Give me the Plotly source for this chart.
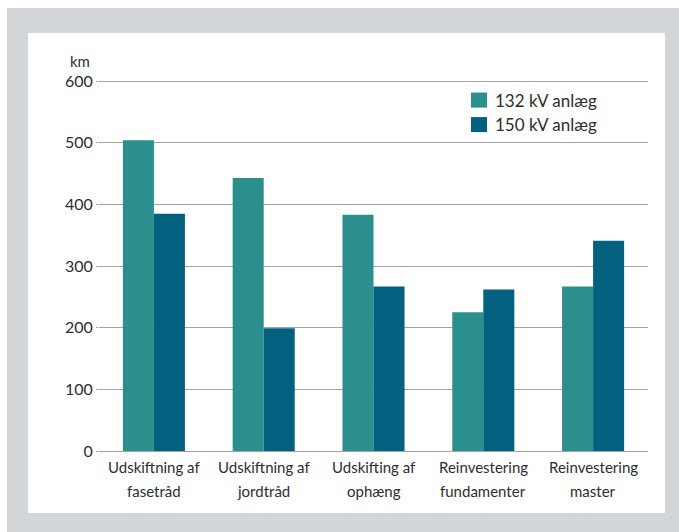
import plotly.graph_objects as go

# Data
category_lines = [
    ("Udskiftning af", "fasetråd"),
    ("Udskiftning af", "jordtråd"),
    ("Udskifting af", "ophæng"),
    ("Reinvestering", "fundamenter"),
    ("Reinvestering", "master"),
]
categories = [" ".join(c) for c in category_lines]
series_names = ["132 kV anlæg", "150 kV anlæg"]
values_132 = [504, 443, 383, 225, 267]
values_150 = [385, 199, 267, 262, 341]
y_ticks = [0, 100, 200, 300, 400, 500, 600]
unit_label = "km"

colors = ["#2a8f8d", "#03607f"]
text_color = "#2e2e2e"
grid_color = "#a3a3a3"
font_family = "Lato, 'Open Sans', sans-serif"

W, H = 679, 532
Y_MAX = 605  # headroom so the 600 gridline is drawn
B = 451      # pixel row of y = 0
PX_PER_UNIT = 370 / 600
L, R = 99, 648
T = B - PX_PER_UNIT * Y_MAX


def px_x(px):
    return (px - L) / (R - L)


def px_y(py):
    return (B - py) / (B - T)


fig = go.Figure()
for name, vals, col in zip(series_names, [values_132, values_150], colors):
    fig.add_trace(go.Bar(x=categories, y=vals, name=name, marker_color=col,
                         marker_line_width=0, showlegend=False))

shapes = [
    # outer grey frame and inner white panel
    dict(type="rect", xref="paper", yref="paper", layer="below",
         x0=px_x(7), x1=px_x(W + 5), y0=px_y(8), y1=px_y(H + 5),
         fillcolor="#d3d6d8", line_width=0),
    dict(type="rect", xref="paper", yref="paper", layer="below",
         x0=px_x(28), x1=px_x(665), y0=px_y(33), y1=px_y(513),
         fillcolor="#ffffff", line_width=0),
]

annotations = []
# legend
for i, (name, col) in enumerate(zip(series_names, colors)):
    cy = 100 + i * 24.5
    shapes.append(dict(type="rect", xref="paper", yref="paper",
                       x0=px_x(471), x1=px_x(487), y0=px_y(cy - 7.5), y1=px_y(cy + 7.5),
                       fillcolor=col, line_width=0))
    annotations.append(dict(x=px_x(493), y=px_y(cy), xref="paper", yref="paper",
                            text=name, showarrow=False, xanchor="left", yanchor="middle",
                            font=dict(size=17, color=text_color, family=font_family)))

# category labels (two lines each)
for cat, (l1, l2) in zip(categories, category_lines):
    for line, py in ((l1, 467), (l2, 491)):
        annotations.append(dict(x=cat, y=px_y(py), xref="x", yref="paper", text=line,
                                showarrow=False, xanchor="center", yanchor="middle",
                                font=dict(size=15, color=text_color, family=font_family)))

# unit label above the y axis
annotations.append(dict(x=px_x(68), y=px_y(61), xref="paper", yref="paper", text=unit_label,
                        showarrow=False, xanchor="left", yanchor="middle",
                        font=dict(size=15, color=text_color, family=font_family)))

fig.update_layout(
    width=W, height=H,
    margin=dict(l=L, r=W - R, t=T, b=H - B, pad=0),
    paper_bgcolor="#ffffff", plot_bgcolor="rgba(0,0,0,0)",
    barmode="group", bargap=0.435, bargroupgap=0,
    font=dict(family=font_family, size=15, color=text_color),
    shapes=shapes, annotations=annotations,
    xaxis=dict(showticklabels=False, showgrid=False, zeroline=False, showline=False,
               ticks="", fixedrange=True),
    yaxis=dict(range=[0, Y_MAX], tickvals=y_ticks, showgrid=True, gridcolor=grid_color,
               gridwidth=1.3, zeroline=True, zerolinecolor=grid_color, zerolinewidth=1.3,
               showline=False, ticks="outside", ticklen=2, tickcolor=grid_color,
               tickfont=dict(size=16, color=text_color, family=font_family)),
)

fig.write_html("out.html")
